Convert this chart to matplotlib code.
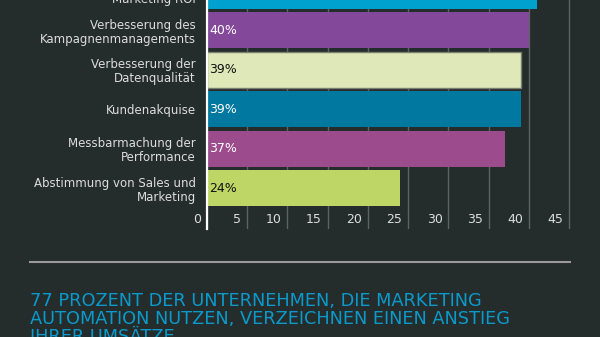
import matplotlib.pyplot as plt
import matplotlib.transforms as mtransforms
from matplotlib.lines import Line2D

# Daten (von oben nach unten)
categories = ['Steigerung des\nMarketing ROI',
              'Verbesserung des\nKampagnenmanagements',
              'Verbesserung der\nDatenqualität',
              'Kundenakquise',
              'Messbarmachung der\nPerformance',
              'Abstimmung von Sales und\nMarketing']
values = [41, 40, 39, 39, 37, 24]
bar_colors = ['#00a0cf', '#83489a', '#dee8b9', '#01789f', '#9c4c8c', '#bdd665']
label_colors = ['white', 'white', '#111111', 'white', 'white', '#111111']
x_ticks = [0, 5, 10, 15, 20, 25, 30, 35, 40, 45]
headline = ('77 PROZENT DER UNTERNEHMEN, DIE MARKETING\n'
            'AUTOMATION NUTZEN, VERZEICHNEN EINEN ANSTIEG\n'
            'IHRER UMSÄTZE')

bg = '#252c2c'
W, H = 600, 337

fig = plt.figure(figsize=(6, 3.37), dpi=100, facecolor=bg)
# Achse: links bei x=207px, unten bei y=229px, oben ueber den Bildrand hinaus
# (der oberste Balken ist im Original angeschnitten)
ax = fig.add_axes([207 / W, 1 - 229 / H, 386.4 / W, 269 / H])
ax.set_facecolor(bg)

n = len(categories)
ypos = [n - 1 - i for i in range(n)]
ax.barh(ypos, values, height=0.91, color=bar_colors, zorder=3,
        edgecolor=['none', 'none', '#7a7f70', 'none', 'none', 'none'], linewidth=1)

for y, v, c in zip(ypos, values, label_colors):
    ax.text(0.25, y, '%d%%' % v, color=c, fontsize=9, va='center', ha='left', zorder=4)

ax.set_yticks(ypos)
ax.set_yticklabels(categories, fontsize=8.5, color='#dddddd', linespacing=1.1)
ax.tick_params(axis='y', length=0, pad=8)

ax.set_xticks(x_ticks)
ax.set_xticklabels([str(t) for t in x_ticks], fontsize=9, color='#dddddd')
ax.tick_params(axis='x', length=0, pad=-11.5)
offset = mtransforms.ScaledTranslation(-6 / 100, 0, fig.dpi_scale_trans)
for lbl in ax.get_xticklabels():
    lbl.set_ha('right')
    lbl.set_transform(lbl.get_transform() + offset)

# Grenzen erst nach den Ticks setzen
ax.set_xlim(0, 48)
ax.set_ylim(-1.03, 4.77 + 40 / 39.48)

ax.grid(axis='x', color='#5c6363', linewidth=1, zorder=0)
ax.grid(axis='y', visible=False)
for s in ['top', 'right', 'bottom']:
    ax.spines[s].set_visible(False)
ax.spines['left'].set_color('white')
ax.spines['left'].set_linewidth(1.6)
ax.spines['left'].set_zorder(5)

# Trennlinie
fig.add_artist(Line2D([30 / W, 570 / W], [1 - 261.5 / H, 1 - 261.5 / H],
                      color='#9a9a9a', linewidth=1.5))

# Überschrift
fig.text(30 / W, 1 - 292 / H, headline, color='#0a9acb', fontsize=12.8,
         ha='left', va='top', linespacing=1.0)

fig.savefig('out.png', dpi=100, facecolor=bg)
